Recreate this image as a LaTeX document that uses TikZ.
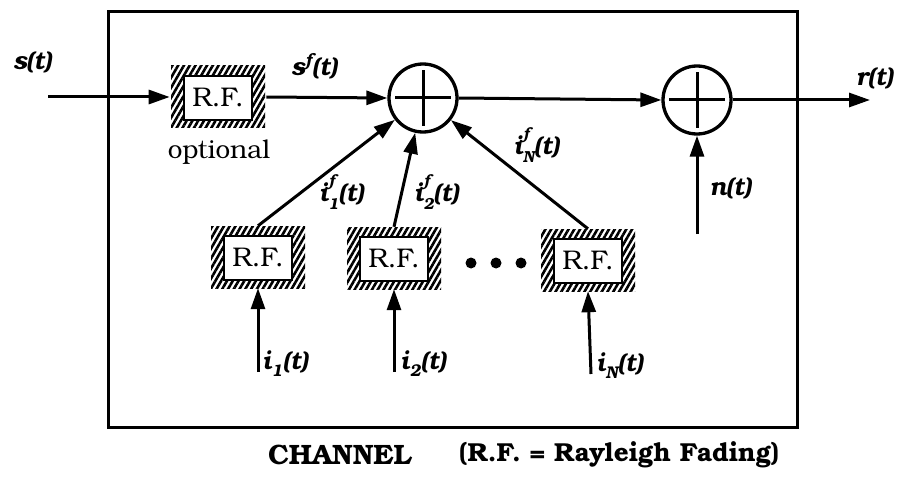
\documentclass[tikz,border=0pt]{standalone}
\usepackage{fontspec}
\setmainfont{TeX Gyre Bonum}
\usetikzlibrary{arrows.meta,patterns.meta}
\newcommand{\supsub}[2]{\makebox[0pt][l]{\raisebox{0.62em}{\fontsize{16}{16}\selectfont #1}}\raisebox{-0.32em}{\fontsize{16}{16}\selectfont #2}}
\newcommand{\subonly}[1]{\raisebox{-0.28em}{\fontsize{17}{17}\selectfont #1}}
\tikzset{
  conn/.style={line width=3pt, -{Triangle[length=21pt,width=14pt]}},
  chframe/.style={line width=3pt},
  rfbox/.style={rectangle, minimum width=94pt, minimum height=62pt, inner sep=0pt,
    pattern={Lines[angle=60,distance=5pt,line width=2.6pt]},
    font=\fontsize{27}{30}\selectfont,
    path picture={\draw[line width=2.4pt, fill=white]
      ([shift={(13pt,-10pt)}]path picture bounding box.north west) rectangle
      ([shift={(-13pt,8pt)}]path picture bounding box.south east);}},
  sumnode/.style={circle, draw, line width=3.3pt, minimum size=68pt, inner sep=0pt,
    path picture={\draw[line width=3pt]
      ([xshift=-28pt]path picture bounding box.center) -- ([xshift=28pt]path picture bounding box.center)
      ([yshift=-28pt]path picture bounding box.center) -- ([yshift=28pt]path picture bounding box.center);}},
  sigtxt/.style={font=\fontsize{25}{28}\selectfont\bfseries\itshape, inner sep=0pt},
  plaintxt/.style={font=\fontsize{26}{28}\selectfont, inner sep=0pt},
  captxt/.style={font=\fontsize{28}{30}\selectfont\bfseries, inner sep=0pt},
  legtxt/.style={font=\fontsize{26}{30}\selectfont\bfseries, inner sep=0pt},
  dotnode/.style={circle, fill, minimum size=11pt, inner sep=0pt},
}
\begin{document}
\begin{tikzpicture}[x=1pt,y=-1pt]
\useasboundingbox (0,0) rectangle (899,484);
% channel frame
\draw[chframe] (108,12) rectangle (797,427);

% blocks
\node[rfbox] (rf0) at (218,97) {R.F.};
\node[sumnode] (sum1) at (423,98) {};
\node[sumnode] (sum2) at (697,100) {};
\node[rfbox] (rf1) at (258,257) {R.F.};
\node[rfbox] (rf2) at (394,258) {R.F.};
\node[rfbox] (rfN) at (588,260) {R.F.};
\node[dotnode] (d1) at (471,263) {};
\node[dotnode] (d2) at (496,263) {};
\node[dotnode] (d3) at (521,263) {};

% free ends
\coordinate (sin) at (48,97);
\coordinate (rout) at (870,100);
\coordinate (nin) at (697,234);
\coordinate (i1in) at (258,372);
\coordinate (i2in) at (394,372);
\coordinate (iNin) at (591,374);

% connectors
\draw[conn] (sin) -- (rf0.west);
\draw[conn] (rf0.east) -- (sum1.west);
\draw[conn] (sum1.east) -- (sum2.west);
\draw[conn] (sum2.east) -- (rout);
\draw[conn] (nin) -- (sum2.south);
\draw[conn] (rf1.north) -- (sum1);
\draw[conn] (rf2.north) -- (sum1);
\draw[conn] (rfN.north) -- (sum1);
\draw[conn] (i1in) -- (rf1.south);
\draw[conn] (i2in) -- (rf2.south);
\draw[conn] (iNin) -- (rfN.south);

% labels
\node[sigtxt] (ls) at (32,62) {s(t)};
\node[sigtxt] (lsf) at (314,66) {s\textsuperscript{f}(t)};
\node[plaintxt] (lopt) at (219,152) {optional};
\node[sigtxt] (lr) at (874,78) {r(t)};
\node[sigtxt] (ln) at (730,188) {n(t)};
\node[sigtxt] (li1f) at (341,192) {i\supsub{f}{1}(t)};
\node[sigtxt] (li2f) at (436,192) {i\supsub{f}{2}(t)};
\node[sigtxt] (liNf) at (536,145) {i\supsub{f}{N}(t)};
\node[sigtxt, anchor=west] (li1) at (262,364) {i\subonly{1}(t)};
\node[sigtxt, anchor=west] (li2) at (400,364) {i\subonly{2}(t)};
\node[sigtxt, anchor=west] (liN) at (596,366) {i\subonly{N}(t)};

% caption
\node[captxt, anchor=west] (chan) at (268,455) {CHANNEL};
\node[legtxt, anchor=west] (legend) at (459,455) {(R.F. = Rayleigh Fading)};
\end{tikzpicture}
\end{document}
